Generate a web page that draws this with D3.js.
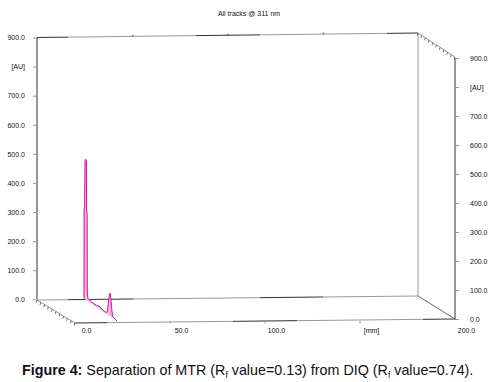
<!DOCTYPE html>
<html><head><meta charset="utf-8">
<script src="https://cdn.jsdelivr.net/npm/d3@7"></script>
<style>
html,body{margin:0;padding:0;background:#fff;}
svg text{font-family:"Liberation Sans",Arial,sans-serif;}
</style></head>
<body><svg id="c" width="495" height="382"></svg>
<script>
// ---- data ----
const title = "All tracks @ 311 nm";
const auTicks = [0,100,200,300,400,500,600,700,800,900];
const auTickLabels = ["0.0","100.0","200.0","300.0","400.0","500.0","600.0","700.0","[AU]","900.0"];
const mmTicks = [0,50,100,150,200];
const mmTickLabels = ["0.0","50.0","100.0","[mm]","200.0"];
// trace along the track (relative position 0..1) and absorbance (AU)
const trackPos = [0,0.003,0.02,0.03,0.05,0.075,0.08,0.095,0.1,0.12,0.2,0.3,0.4,0.45,0.5,0.55,0.6,0.65,0.68,0.7,0.72,0.74,0.76,0.78,0.79,0.8,0.82,0.84,0.86,0.88,0.9,0.95,1.0];
const trackAU  = [0,310,315,480,482,478,310,300,30,10,6,5,6,9,8,5,4,4,5,8,20,45,65,78,80,74,55,30,10,4,3,2,0];
const caption = {bold:"Figure 4:", text:[" Separation of MTR (R","f"," value=0.13) from DIQ (R","f"," value=0.74)."]};

// ---- layout ----
const svg = d3.select("#c");
const dark="#333", gray="#999";
const yLeft = d3.scaleLinear().domain([0,900]).range([299.3,37.5]);
const yRight = d3.scaleLinear().domain([0,900]).range([319,58]);
const xBack = d3.scaleLinear().domain([0,200]).range([37,418]);
const xFront = d3.scaleLinear().domain([0,200]).range([75,455]);
const depth = d3.scaleLinear().domain([0,1]).range([0,1]);
const traceX = d3.scaleLinear().domain([0,1]).range([84,117]);
const traceBase = d3.scaleLinear().domain([0,1]).range([298.5,321]);
const auPx = d3.scaleLinear().domain([0,900]).range([0,261.8]);

function seg(p0,p1,breaks){
  breaks.forEach(([a,b,c])=>{
    svg.append("line")
      .attr("x1",p0[0]+(p1[0]-p0[0])*a).attr("y1",p0[1]+(p1[1]-p0[1])*a)
      .attr("x2",p0[0]+(p1[0]-p0[0])*b).attr("y2",p0[1]+(p1[1]-p0[1])*b)
      .attr("stroke",c).attr("stroke-width",1);
  });
}
function fr(x0,x1,xs){return (xs-x0)/(x1-x0);}

const bTL=[xBack(0),37.5], bTR=[xBack(200),33], bBL=[xBack(0),300], bBR=[xBack(200),296];
const fBL=[xFront(0),323], fBR=[xFront(200),319], fTR=[xFront(200),57];
seg(bTL,bTR,[[0,fr(37,418,68),dark],[fr(37,418,68),fr(37,418,196),gray],[fr(37,418,196),fr(37,418,260),dark],[fr(37,418,260),fr(37,418,387),gray],[fr(37,418,387),1,dark]]);
seg(bBL,bBR,[[0,fr(37,418,68),gray],[fr(37,418,68),fr(37,418,133),dark],[fr(37,418,133),fr(37,418,260),gray],[fr(37,418,260),fr(37,418,323),dark],[fr(37,418,323),1,gray]]);
seg(fBL,fBR,[[0,fr(75,455,107),dark],[fr(75,455,107),fr(75,455,233),gray],[fr(75,455,233),fr(75,455,297),dark],[fr(75,455,297),fr(75,455,423),gray],[fr(75,455,423),1,dark]]);
seg(bTR,[bTR[0],bBR[1]],[[0,1,gray]]);
seg(bTR,fTR,[[0,1,gray]]);
seg(bBR,fBR,[[0,1,"#666"]]);
seg(bBL,fBL,[[0,1,gray]]);
[50,100,150].forEach(v=>{
  const x=xBack(v), y=bTL[1]+(bTR[1]-bTL[1])*fr(37,418,x);
  svg.append("line").attr("x1",x).attr("x2",x+1).attr("y1",y).attr("y2",y-1.5).attr("stroke",dark);
});
depth.ticks(11).forEach(t=>{
  const xl=bBL[0]+(fBL[0]-bBL[0])*t, yl=bBL[1]+(fBL[1]-bBL[1])*t;
  svg.append("line").attr("x1",xl).attr("x2",xl-0.8).attr("y1",yl).attr("y2",yl+2.5).attr("stroke","#444").attr("stroke-width",0.8);
  const xr=bTR[0]+(fTR[0]-bTR[0])*t, yr=bTR[1]+(fTR[1]-bTR[1])*t;
  svg.append("line").attr("x1",xr).attr("x2",xr-0.8).attr("y1",yr).attr("y2",yr+2.5).attr("stroke","#444").attr("stroke-width",0.8);
});

const gL = svg.append("g").attr("transform",`translate(${xBack(0)},0)`)
  .call(d3.axisLeft(yLeft).tickValues(auTicks).tickSize(4).tickPadding(8)
    .tickFormat((d,i)=>auTickLabels[i]));
gL.select(".domain").attr("stroke",dark).attr("d",`M0,${yLeft(900)}V${yLeft(0)}`);
gL.selectAll(".tick line").attr("stroke",gray);
gL.selectAll("text").attr("font-size",7).attr("fill","#111").attr("font-family","Liberation Sans, Arial");

const gR = svg.append("g").attr("transform",`translate(${xFront(200)},0)`)
  .call(d3.axisRight(yRight).tickValues(auTicks).tickSize(4).tickPadding(11)
    .tickFormat((d,i)=>auTickLabels[i]));
gR.select(".domain").attr("stroke",dark).attr("d",`M0,${yRight(900)}V${yRight(0)}`);
gR.selectAll(".tick line").attr("stroke",gray);
gR.selectAll("text").attr("font-size",7).attr("fill","#111").attr("font-family","Liberation Sans, Arial");

const gB = svg.append("g").attr("transform",`translate(0,${fBL[1]-1})`);
mmTicks.forEach((v,i)=>{
  const x=xFront(v);
  if(i>0&&i<mmTicks.length-1) gB.append("line").attr("x1",x).attr("x2",x).attr("y1",-1).attr("y2",1.5).attr("stroke",gray);
  gB.append("text").attr("x",x+11.5).attr("y",11).attr("text-anchor","middle")
    .attr("font-size",7).attr("fill","#111").text(mmTickLabels[i]);
});

svg.append("text").attr("x",249).attr("y",16).attr("text-anchor","middle")
  .attr("font-size",7).attr("fill","#111").text(title);

const pts = trackPos.map((t,i)=>[traceX(t), traceBase(t)-auPx(trackAU[i])]);
const basePts = trackPos.map(t=>[traceX(t), traceBase(t)]);
const poly = pts.concat(basePts.slice().reverse());
svg.append("path").attr("d",d3.line()(poly)+"Z").attr("fill","#f4b6dc").attr("stroke","none");
svg.append("path").attr("d",d3.line()(pts)).attr("fill","none").attr("stroke","#cc1199").attr("stroke-width",1);

const cap = svg.append("text").attr("x",22).attr("y",375).attr("font-size",14.3).attr("fill","#111");
cap.append("tspan").attr("font-weight","bold").text(caption.bold);
caption.text.forEach((s,i)=>{
  const ts = cap.append("tspan").text(s);
  if(i%2===1) ts.attr("font-size",8.5).attr("dy",3);
  else if(i>0) ts.attr("dy",-3);
});
</script></body></html>
